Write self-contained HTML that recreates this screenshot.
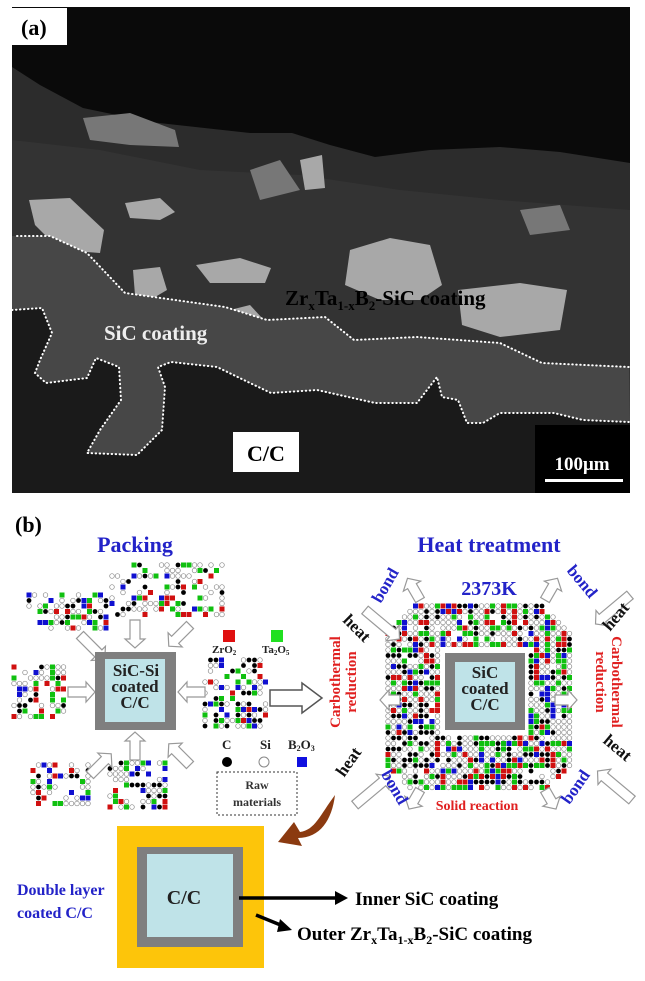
<!DOCTYPE html>
<html><head><meta charset="utf-8"><style>
html,body{margin:0;padding:0;background:#fff}
svg{display:block}
text{font-family:"Liberation Serif",serif;font-weight:bold}
</style></head><body>
<svg id="s" width="645" height="981" viewBox="0 0 645 981" xmlns="http://www.w3.org/2000/svg">
<rect width="645" height="981" fill="#fff"/>
<!-- (a) SEM -->
<rect x="12" y="7" width="618" height="486" fill="#0a0a0a"/>
<polygon points="12,67 40,85 83,108 150,122 250,133 292,133 330,145 375,157 430,150 500,147 560,152 630,163 630,493 12,493" fill="#2c2c2c"/>
<polygon points="12,140 100,150 200,170 300,175 400,190 500,200 630,210 630,493 12,493" fill="#333"/>
<g fill="#a8a8a8">
<polygon points="29,200 70,198 104,230 100,253 60,250 35,225"/>
<polygon points="133,270 160,267 167,290 150,300 135,295"/>
<polygon points="350,250 390,238 430,245 442,285 420,300 380,300 345,285"/>
<polygon points="458,290 520,283 567,290 560,330 500,337 462,325"/>
<polygon points="196,265 240,258 271,268 265,283 210,283"/>
<polygon points="125,203 160,198 175,212 160,220 130,218"/>
<polygon points="300,160 322,155 325,188 305,190"/>
<polygon points="230,310 250,305 262,318 240,322"/>
</g>
<g fill="#777"><polygon points="83,118 130,113 175,130 179,147 130,145 90,140"/>
<polygon points="250,170 280,160 300,190 260,200"/><polygon points="520,210 560,205 570,230 530,235"/></g>
<polygon points="17,236 50,236 87,253 125,293 225,307 267,320 325,317 354,340 417,337 500,343 542,363 629,367 630,422 583,420 554,413 500,413 483,423 467,423 458,400 442,397 437,377 417,403 375,403 317,390 271,393 250,383 217,367 171,362 158,367 165,387 162,430 137,455 87,453 100,430 121,400 119,367 96,358 87,378 46,383 35,373 40,360 52,333 42,308 12,310 12,236" fill="#474747"/>
<polygon points="12,310 42,308 52,333 40,360 35,373 46,383 87,378 96,358 119,367 121,400 100,430 87,453 137,455 162,430 165,387 158,367 171,362 217,367 250,383 271,393 317,390 375,403 417,403 437,377 442,397 458,400 467,423 483,423 500,413 554,413 583,420 630,422 630,493 12,493" fill="#1a1a1a"/>
<g fill="none" stroke="#fff" stroke-width="2" stroke-dasharray="0.5 3.5" stroke-linecap="round">
<polyline points="17,236 50,236 87,253 125,293 225,307 267,320 325,317 354,340 417,337 500,343 542,363 629,367"/>
<polyline points="12,310 42,308 52,333 40,360 35,373 46,383 87,378 96,358 119,367 121,400 100,430 87,453 137,455 162,430 165,387 158,367 171,362 217,367 250,383 271,393 317,390 375,403 417,403 437,377 442,397 458,400 467,423 483,423 500,413 554,413 583,420 629,422"/>
</g>
<rect x="12" y="8" width="55" height="37" fill="#fff"/>
<text x="21" y="35" font-size="22" fill="#000">(a)</text>
<text x="104" y="340" font-size="21" fill="#eee">SiC coating</text>
<text x="285" y="305" font-size="21" fill="#000">Zr<tspan font-size="13" dy="5">x</tspan><tspan dy="-5">Ta</tspan><tspan font-size="13" dy="5">1-x</tspan><tspan dy="-5">B</tspan><tspan font-size="13" dy="5">2</tspan><tspan dy="-5">-SiC coating</tspan></text>
<rect x="233" y="432" width="66" height="40" fill="#fff"/>
<text x="266" y="461" font-size="22" fill="#000" text-anchor="middle">C/C</text>
<rect x="535" y="425" width="95" height="68" fill="#000"/>
<text x="582" y="470" font-size="19" fill="#fff" text-anchor="middle">100μm</text>
<rect x="545" y="479" width="78" height="3" fill="#fff"/>
<!-- (b) -->
<text x="15" y="532" font-size="22" fill="#000">(b)</text>
<text x="135" y="552" font-size="22" fill="#2323c8" text-anchor="middle">Packing</text>
<text x="489" y="552" font-size="22" fill="#2323c8" text-anchor="middle">Heat treatment</text>
<text x="489" y="595" font-size="20" fill="#2323c8" text-anchor="middle">2373K</text>
<g id="parts"></g>
<g id="arrows" fill="#fff" stroke="#999" stroke-width="1.2"></g>
<!-- left box -->
<rect x="95" y="652" width="81" height="78" fill="#7f7f7f"/>
<rect x="105" y="659" width="60" height="63" fill="#bfe3e8"/>
<g font-size="17" fill="#222" text-anchor="middle"><text x="136" y="676">SiC-Si</text><text x="135" y="692">coated</text><text x="135" y="708">C/C</text></g>
<!-- right box -->
<rect x="445" y="653" width="80" height="77" fill="#7f7f7f"/>
<rect x="455" y="662" width="60" height="60" fill="#bfe3e8"/>
<g font-size="17" fill="#222" text-anchor="middle"><text x="485" y="678">SiC</text><text x="485" y="694">coated</text><text x="485" y="710">C/C</text></g>
<!-- legend -->
<rect x="223" y="630" width="12" height="12" fill="#e01010"/>
<rect x="271" y="630" width="12" height="12" fill="#20e020"/>
<text x="212" y="653" font-size="11" fill="#222" font-weight="normal">ZrO<tspan font-size="7" dy="2">2</tspan></text>
<text x="262" y="653" font-size="11" fill="#222" font-weight="normal">Ta<tspan font-size="7" dy="2">2</tspan><tspan dy="-2">O</tspan><tspan font-size="7" dy="2">5</tspan></text>
<text x="222" y="749" font-size="13" fill="#222">C</text>
<text x="260" y="749" font-size="13" fill="#222">Si</text>
<text x="288" y="749" font-size="13" fill="#222">B<tspan font-size="8" dy="2">2</tspan><tspan dy="-2">O</tspan><tspan font-size="8" dy="2">3</tspan></text>
<circle cx="227" cy="762" r="5" fill="#000"/>
<circle cx="264" cy="762" r="5" fill="#fff" stroke="#888"/>
<rect x="297" y="757" width="10" height="10" fill="#1010e0"/>
<rect x="217" y="772" width="80" height="43" fill="none" stroke="#333" stroke-dasharray="2 2"/>
<g font-size="12" fill="#333" text-anchor="middle" font-weight="normal"><text x="257" y="789">Raw</text><text x="257" y="806">materials</text></g>
<!-- big arrow -->
<polygon points="270,690 302,690 302,683 322,698 302,713 302,706 270,706" fill="#fff" stroke="#555" stroke-width="1.5"/>
<!-- brown curve -->
<path d="M335,795 C320,815 315,830 300,832 L294,822 L278,842 L302,846 L298,838 C320,838 332,820 335,795Z" fill="#8b3a10"/>
<!-- red/blue/black texts -->
<g fill="#e02020" font-size="15">
<text transform="translate(340,682) rotate(-90)" text-anchor="middle">Carbothermal</text>
<text transform="translate(356,682) rotate(-90)" text-anchor="middle">reduction</text>
<text transform="translate(612,682) rotate(90)" text-anchor="middle">Carbothermal</text>
<text transform="translate(596,682) rotate(90)" text-anchor="middle">reduction</text>
<text x="477" y="810" text-anchor="middle" font-size="14">Solid reaction</text>
</g>
<g fill="#2323c8" font-size="17">
<text transform="translate(390,588) rotate(-60)" text-anchor="middle">bond</text>
<text transform="translate(578,585) rotate(50)" text-anchor="middle">bond</text>
<text transform="translate(390,790) rotate(60)" text-anchor="middle">bond</text>
<text transform="translate(580,790) rotate(-55)" text-anchor="middle">bond</text>
</g>
<g fill="#111" font-size="17">
<text transform="translate(353,632) rotate(45)" text-anchor="middle">heat</text>
<text transform="translate(620,620) rotate(-50)" text-anchor="middle">heat</text>
<text transform="translate(353,765) rotate(-55)" text-anchor="middle">heat</text>
<text transform="translate(614,752) rotate(40)" text-anchor="middle">heat</text>
</g>
<!-- bottom -->
<rect x="117" y="826" width="147" height="142" fill="#fdc50a"/>
<rect x="137" y="847" width="106" height="100" fill="#7f7f7f"/>
<rect x="147" y="854" width="86" height="83" fill="#bfe3e8"/>
<text x="184" y="904" font-size="20" fill="#222" text-anchor="middle">C/C</text>
<g fill="#2323c8" font-size="16"><text x="17" y="895">Double layer</text><text x="17" y="918">coated C/C</text></g>
<line x1="239" y1="898" x2="337" y2="898" stroke="#000" stroke-width="3.5"/>
<polygon points="335,891 348,898 335,905" fill="#000"/>
<line x1="256" y1="915" x2="283" y2="926" stroke="#000" stroke-width="3.5"/>
<polygon points="280,919 292,930 277,932" fill="#000"/>
<text x="355" y="905" font-size="19" fill="#000">Inner SiC coating</text>
<text x="297" y="940" font-size="19" fill="#000">Outer Zr<tspan font-size="12" dy="4">x</tspan><tspan dy="-4">Ta</tspan><tspan font-size="12" dy="4">1-x</tspan><tspan dy="-4">B</tspan><tspan font-size="12" dy="4">2</tspan><tspan dy="-4">-SiC coating</tspan></text>
</svg>
<script>
var seed=7;function r(){seed=(seed*16807)%2147483647;return (seed-1)/2147483646;}
var NS="http://www.w3.org/2000/svg",P=document.getElementById("parts"),A=document.getElementById("arrows");
function el(t,a,p){var e=document.createElementNS(NS,t);for(var k in a)e.setAttribute(k,a[k]);(p||P).appendChild(e);return e;}
function part(x,y){var q=r();
 if(q<0.42)el("circle",{cx:x,cy:y,r:2.3,fill:"#fff",stroke:"#888","stroke-width":0.7});
 else if(q<0.62)el("circle",{cx:x,cy:y,r:2.4,fill:"#000"});
 else if(q<0.77)el("rect",{x:x-2.5,y:y-2.5,width:5,height:5,fill:"#10c010"});
 else if(q<0.9)el("rect",{x:x-2.5,y:y-2.5,width:5,height:5,fill:"#d01010"});
 else el("rect",{x:x-2.5,y:y-2.5,width:5,height:5,fill:"#1010d0"});}
function cluster(x0,y0,x1,y1,d){for(var y=y0;y<=y1;y+=5.5)for(var x=x0;x<=x1;x+=5.5)if(r()<d)part(x,y);}
cluster(29,595,107,630,0.6);cluster(112,565,227,617,0.55);cluster(14,667,66,717,0.6);
cluster(33,765,91,808,0.6);cluster(110,763,165,808,0.6);cluster(205,660,270,730,0.55);
// right dense cluster
for(var y=606;y<=792;y+=5.5)for(var x=388;x<=572;x+=5.5){
 var dx=Math.abs(x-480),dy=Math.abs(y-699);
 if(dx+dy>160)continue; if(x>440&&x<530&&y>648&&y<735)continue; if(r()<0.93)part(x,y);}
function harrow(x,y,ang,len){var g=el("g",{transform:"translate("+x+","+y+") rotate("+ang+")"},A);
 el("polygon",{points:"0,-5 "+(len-9)+",-5 "+(len-9)+",-10 "+len+",0 "+(len-9)+",10 "+(len-9)+",5 0,5"},g);}
harrow(80,635,45,35);harrow(135,620,90,28);harrow(190,625,135,30);
harrow(68,692,0,27);harrow(205,692,180,27);
harrow(90,775,-45,30);harrow(135,760,-90,28);harrow(190,765,-135,30);
harrow(365,610,40,45);harrow(630,595,140,45);harrow(355,805,-40,45);harrow(632,800,-140,45);
harrow(400,700,180,20);harrow(555,700,0,22);harrow(420,600,-120,25);harrow(545,600,-60,25);
harrow(420,790,120,22);harrow(545,790,60,22);
</script>
</body></html>
